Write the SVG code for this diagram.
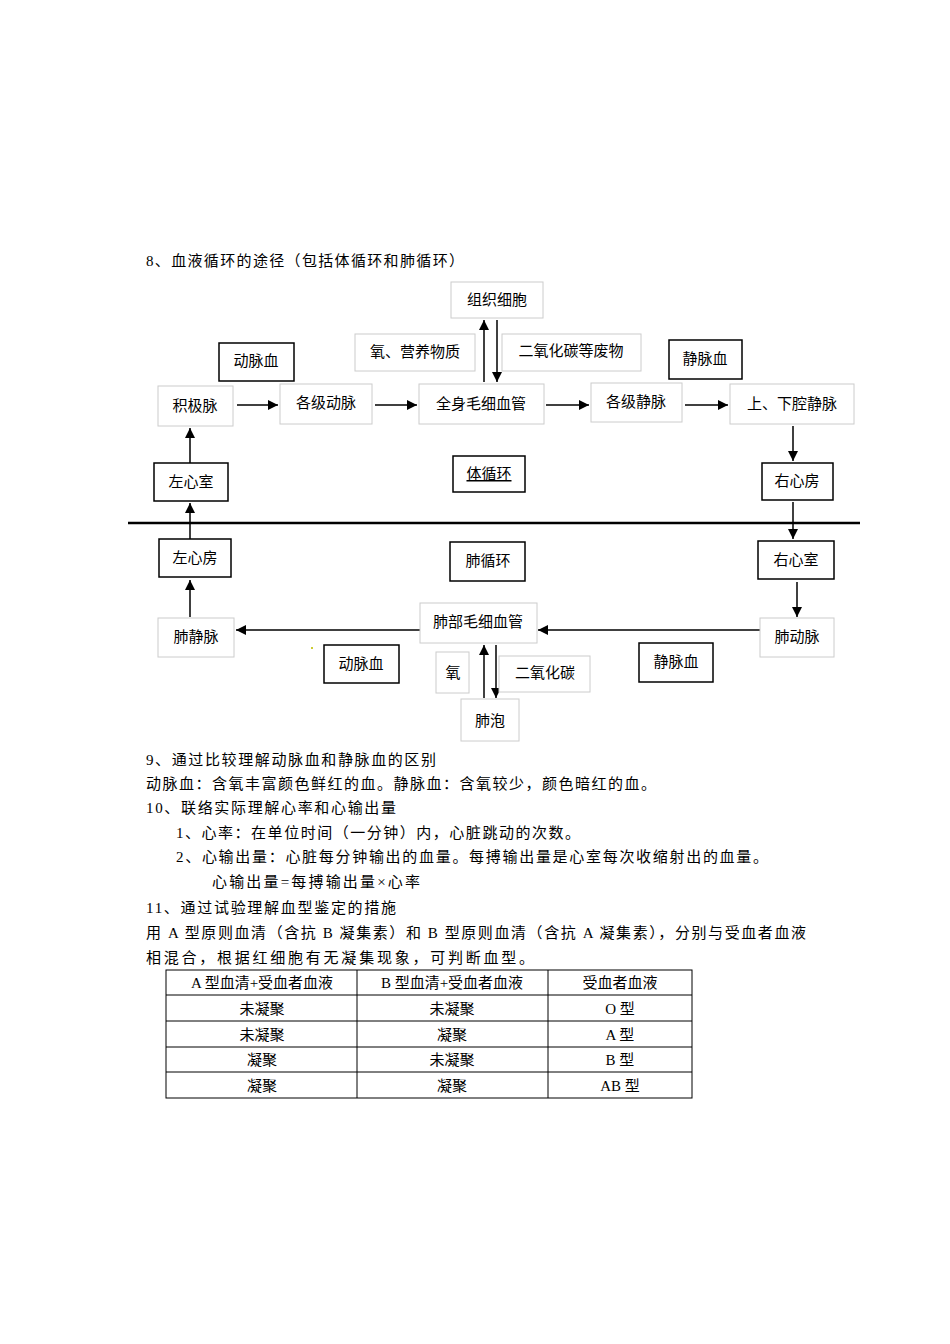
<svg xmlns="http://www.w3.org/2000/svg" width="950" height="1344" viewBox="0 0 950 1344">
<style>
text{font-family:"Liberation Serif","Noto Sans CJK SC",serif;font-size:15px;fill:#000}
.c{text-anchor:middle}
.l{fill:#fff;stroke:#ccc;stroke-width:1}
.d{fill:#fff;stroke:#000;stroke-width:1.5}
.a{stroke:#000;stroke-width:1.5;fill:none;marker-end:url(#ah)}
.t{fill:none;stroke:#000;stroke-width:1}
</style>
<defs><marker id="ah" viewBox="0 0 10 10" refX="10" refY="5" markerWidth="10" markerHeight="10" markerUnits="userSpaceOnUse" orient="auto"><path d="M0,0L10,5L0,10z" fill="#000"/></marker></defs>
<rect width="950" height="1344" fill="#fff"/>
<text x="146" y="266" textLength="318">8、血液循环的途径（包括体循环和肺循环）</text>
<g id="connectors">
<line class="a" x1="484" y1="382" x2="484" y2="320"/>
<line class="a" x1="497" y1="320" x2="497" y2="382"/>
<line class="a" x1="237" y1="405" x2="278" y2="405"/>
<line class="a" x1="375" y1="405" x2="417" y2="405"/>
<line class="a" x1="546" y1="405" x2="589" y2="405"/>
<line class="a" x1="685" y1="405" x2="728" y2="405"/>
<line class="a" x1="190" y1="463" x2="190" y2="428"/>
<line class="a" x1="793" y1="426" x2="793" y2="461"/>
<line x1="128" y1="523" x2="860" y2="523" stroke="#000" stroke-width="2.5"/>
<line class="a" x1="190" y1="539" x2="190" y2="503"/>
<line class="a" x1="793" y1="502" x2="793" y2="539"/>
<line class="a" x1="190" y1="617" x2="190" y2="580"/>
<line class="a" x1="797" y1="582" x2="797" y2="617"/>
<line class="a" x1="420" y1="630" x2="236" y2="630"/>
<line class="a" x1="760" y1="630" x2="538" y2="630"/>
<line class="a" x1="484" y1="698" x2="484" y2="645"/>
<line class="a" x1="496" y1="645" x2="496" y2="698"/>
</g>
<g id="n1"><rect class="l" x="451" y="282" width="92" height="36"/><text class="c" x="497" y="305">组织细胞</text></g>
<g id="n2"><rect class="l" x="355" y="334" width="120" height="37"/><text class="c" x="415" y="357">氧、营养物质</text></g>
<g id="n3"><rect class="l" x="502" y="334" width="139" height="37"/><text class="c" x="571" y="356">二氧化碳等废物</text></g>
<g id="n4"><rect class="d" x="219" y="343" width="75" height="38"/><text class="c" x="256" y="366">动脉血</text></g>
<g id="n5"><rect class="d" x="669" y="340" width="73" height="39"/><text class="c" x="705" y="364">静脉血</text></g>
<g id="n6"><rect class="l" x="158" y="386" width="75" height="40"/><text class="c" x="195" y="411">积极脉</text></g>
<g id="n7"><rect class="l" x="280" y="384" width="92" height="40"/><text class="c" x="326" y="408">各级动脉</text></g>
<g id="n8"><rect class="l" x="419" y="384" width="125" height="40"/><text class="c" x="481" y="409">全身毛细血管</text></g>
<g id="n9"><rect class="l" x="591" y="383" width="91" height="39"/><text class="c" x="636" y="407">各级静脉</text></g>
<g id="n10"><rect class="l" x="730" y="384" width="124" height="40"/><text class="c" x="792" y="409">上、下腔静脉</text></g>
<g id="n11"><rect class="d" x="154" y="463" width="74" height="38"/><text class="c" x="191" y="487">左心室</text></g>
<g id="n12"><rect class="d" x="453" y="456" width="72" height="36"/><text class="c" x="489" y="479" text-decoration="underline">体循环</text></g>
<g id="n13"><rect class="d" x="762" y="463" width="71" height="37"/><text class="c" x="797" y="486">右心房</text></g>
<g id="n14"><rect class="d" x="159" y="539" width="72" height="38"/><text class="c" x="195" y="563">左心房</text></g>
<g id="n15"><rect class="d" x="450" y="542" width="75" height="39"/><text class="c" x="488" y="566">肺循环</text></g>
<g id="n16"><rect class="d" x="758" y="541" width="76" height="38"/><text class="c" x="796" y="565">右心室</text></g>
<g id="n17"><rect class="l" x="158" y="618" width="76" height="39"/><text class="c" x="196" y="642">肺静脉</text></g>
<g id="n18"><rect class="l" x="420" y="603" width="117" height="40"/><text class="c" x="478" y="627">肺部毛细血管</text></g>
<g id="n19"><rect class="l" x="760" y="618" width="74" height="39"/><text class="c" x="797" y="642">肺动脉</text></g>
<rect x="311" y="647" width="2" height="2" fill="#cc3"/>
<g id="n20"><rect class="d" x="324" y="645" width="75" height="38"/><text class="c" x="361" y="669">动脉血</text></g>
<g id="n21"><rect class="d" x="639" y="643" width="74" height="39"/><text class="c" x="676" y="667">静脉血</text></g>
<g id="n22"><rect class="l" x="436" y="652" width="33" height="41"/><text class="c" x="453" y="678">氧</text></g>
<g id="n23"><rect class="l" x="499" y="656" width="91" height="36"/><text class="c" x="545" y="678">二氧化碳</text></g>
<g id="n24"><rect class="l" x="461" y="699" width="58" height="42"/><text class="c" x="490" y="726">肺泡</text></g>
<text x="146" y="765" textLength="290">9、通过比较理解动脉血和静脉血的区别</text>
<text x="146" y="789" textLength="510">动脉血：含氧丰富颜色鲜红的血。静脉血：含氧较少，颜色暗红的血。</text>
<text x="146" y="813" textLength="250">10、联络实际理解心率和心输出量</text>
<text x="176" y="838" textLength="404">1、心率：在单位时间（一分钟）内，心脏跳动的次数。</text>
<text x="176" y="862" textLength="592">2、心输出量：心脏每分钟输出的血量。每搏输出量是心室每次收缩射出的血量。</text>
<text x="212" y="887" textLength="208">心输出量=每搏输出量×心率</text>
<text x="146" y="913" textLength="250">11、通过试验理解血型鉴定的措施</text>
<text x="146" y="938" textLength="660">用 A 型原则血清（含抗 B 凝集素）和 B 型原则血清（含抗 A 凝集素），分别与受血者血液</text>
<text x="146" y="963" textLength="388">相混合，根据红细胞有无凝集现象，可判断血型。</text>
<g id="table">
<rect class="t" x="166" y="970" width="526" height="128"/>
<line class="t" x1="166" y1="995" x2="692" y2="995"/>
<line class="t" x1="166" y1="1021" x2="692" y2="1021"/>
<line class="t" x1="166" y1="1047" x2="692" y2="1047"/>
<line class="t" x1="166" y1="1072" x2="692" y2="1072"/>
<line class="t" x1="357" y1="970" x2="357" y2="1098"/>
<line class="t" x1="548" y1="970" x2="548" y2="1098"/>
<text class="c" x="262" y="988">A 型血清+受血者血液</text>
<text class="c" x="452" y="988">B 型血清+受血者血液</text>
<text class="c" x="620" y="988">受血者血液</text>
<text class="c" x="262" y="1014">未凝聚</text><text class="c" x="452" y="1014">未凝聚</text><text class="c" x="620" y="1014">O 型</text>
<text class="c" x="262" y="1040">未凝聚</text><text class="c" x="452" y="1040">凝聚</text><text class="c" x="620" y="1040">A 型</text>
<text class="c" x="262" y="1065">凝聚</text><text class="c" x="452" y="1065">未凝聚</text><text class="c" x="620" y="1065">B 型</text>
<text class="c" x="262" y="1091">凝聚</text><text class="c" x="452" y="1091">凝聚</text><text class="c" x="620" y="1091">AB 型</text>
</g>
</svg>
